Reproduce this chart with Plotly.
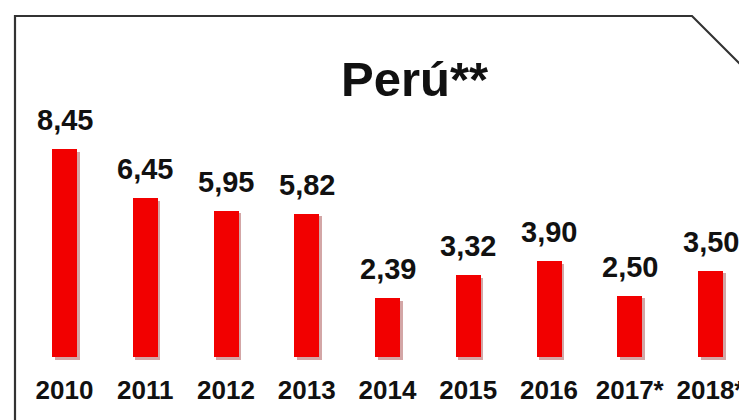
import plotly.graph_objects as go

years = ["2010", "2011", "2012", "2013", "2014", "2015", "2016", "2017*", "2018*"]
values = [8.45, 6.45, 5.95, 5.82, 2.39, 3.32, 3.90, 2.50, 3.50]
value_labels = ["8,45", "6,45", "5,95", "5,82", "2,39", "3,32", "3,90", "2,50", "3,50"]
title_text = "Perú**"

# The page body has an 8px margin; size the figure so it fits the window.
OFF = 8
W, H = 747 - OFF, 420 - OFF
px_per_cat = 80.75
first_center = 64.5 - OFF
px_per_unit = 24.6
zero_px = 357 - OFF
bottom_px = 367 - OFF

x0 = -first_center / px_per_cat
x1 = (W - first_center) / px_per_cat
ymin = -(bottom_px - zero_px) / px_per_unit
ymax = zero_px / px_per_unit

idx = list(range(len(years)))
bw = 25 / px_per_cat
shadow_dx = 2.5 / px_per_cat
shadow_dy = 2.5 / px_per_unit

fig = go.Figure()
# soft shadow
fig.add_trace(go.Bar(
    x=idx, y=values, base=[-shadow_dy] * len(values), width=bw,
    offset=-bw / 2 + shadow_dx,
    marker=dict(color="rgba(130,0,0,0.35)", line=dict(width=0)),
    hoverinfo="skip", showlegend=False,
))
fig.add_trace(go.Bar(
    x=idx, y=values, width=bw, offset=-bw / 2,
    marker=dict(color="#f20000", line=dict(width=0)),
    showlegend=False,
))

for i, (v, t) in enumerate(zip(values, value_labels)):
    fig.add_annotation(
        x=i, y=v, text=t, showarrow=False, xref="x", yref="y",
        yanchor="middle", yshift=29,
        font=dict(family="Liberation Sans", size=29, color="#111111", weight="bold"),
    )


def px(xp):
    return (xp - OFF) / W


def py(yp):
    return 1 - (yp - OFF) / bottom_px


fig.add_annotation(
    x=px(415), y=py(79), xref="paper", yref="paper",
    text=title_text, showarrow=False, xanchor="center", yanchor="middle",
    font=dict(family="Liberation Sans", size=49, color="#111111", weight="bold"),
)

path = (f"M {px(15)},{py(440)} L {px(15)},{py(16)} L {px(692)},{py(16)} "
        f"L {px(770)},{py(94)}")
fig.add_shape(type="path", path=path, xref="paper", yref="paper",
              line=dict(color="#333333", width=2.2), layer="above")

fig.update_layout(
    width=W, height=H,
    margin=dict(l=0, r=0, t=0, b=H - bottom_px, pad=0),
    paper_bgcolor="white", plot_bgcolor="white",
    barmode="overlay",
    bargap=0,
    xaxis=dict(
        range=[x0, x1], tickmode="array", tickvals=idx, ticktext=years,
        showgrid=False, zeroline=False, showline=False, ticks="",
        tickfont=dict(family="Liberation Sans", size=26, color="#111111", weight="bold"),
        ticklabelstandoff=5, automargin=False, fixedrange=True,
    ),
    yaxis=dict(
        range=[ymin, ymax], visible=False, showgrid=False, zeroline=False,
        automargin=False, fixedrange=True,
    ),
)

fig.write_html("out.html")
